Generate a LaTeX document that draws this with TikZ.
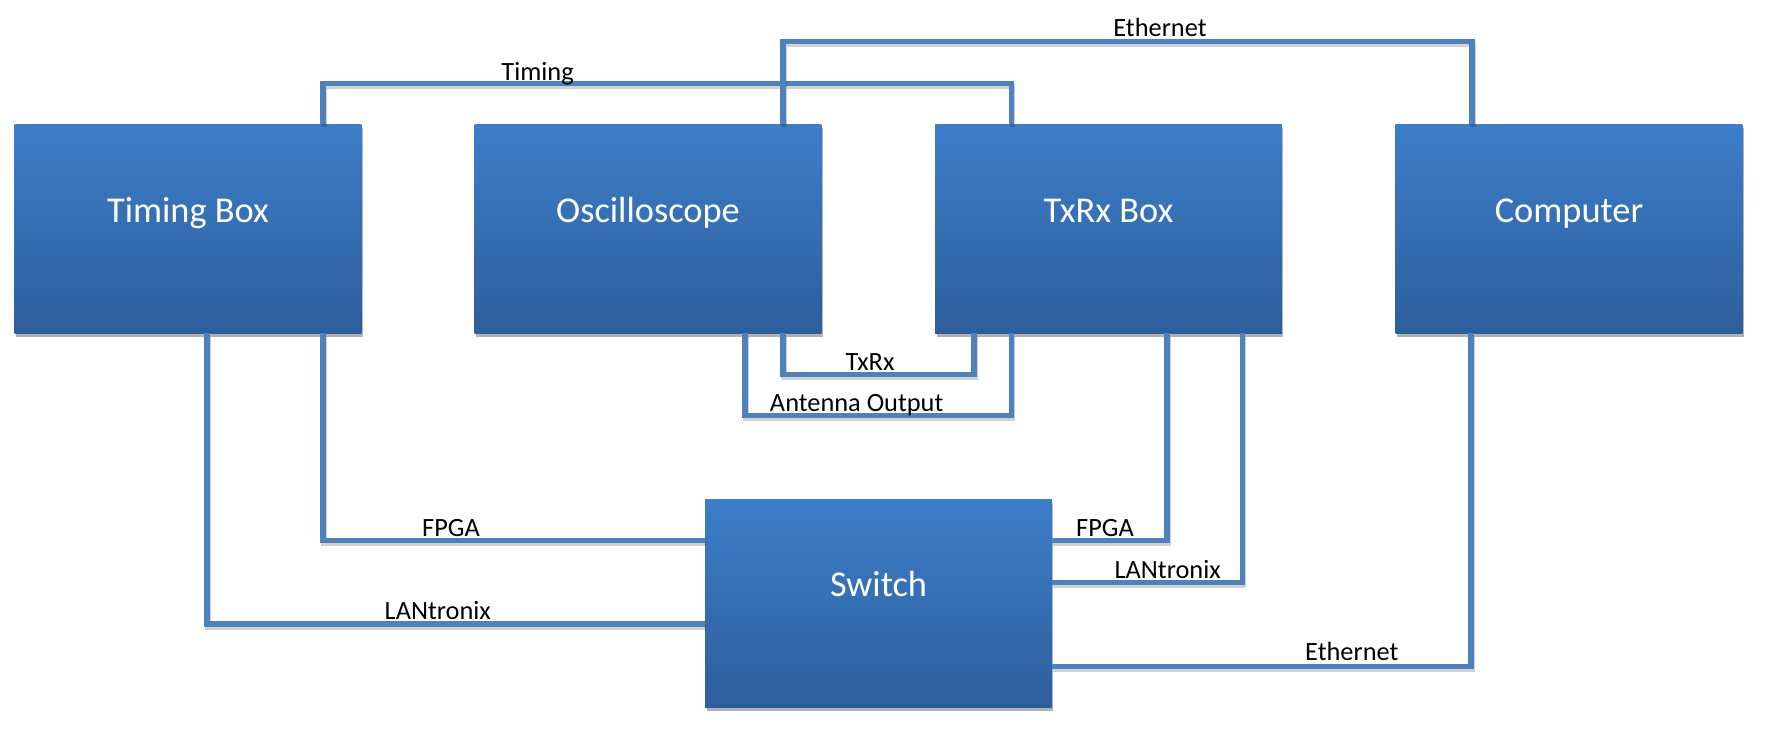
\documentclass[tikz,border=0pt]{standalone}
\usepackage{fontspec}
\setmainfont{Carlito}
\usetikzlibrary{calc,shadows}

\definecolor{boxtop}{RGB}{61,126,201}
\definecolor{boxbot}{RGB}{45,94,156}
\definecolor{wirecol}{RGB}{79,129,189}

\tikzset{
  unit/.style={rectangle,inner sep=0pt,outer sep=0pt,
    minimum width=6.94cm,minimum height=4.18cm,
    top color=boxtop,middle color=boxtop!80!boxbot,bottom color=boxbot,
    drop shadow={shadow xshift=0.03cm,shadow yshift=-0.07cm,opacity=0.3,fill=black}},
  unittext/.style={text=white,font=\fontsize{20.7}{24}\selectfont,
    text height=0.7em,text depth=0.25em,yshift=0.21cm},
  wire/.style={draw=wirecol,line width=0.11cm,line join=miter,
    preaction={draw=black,opacity=0.18,line width=0.11cm,
      transform canvas={xshift=0.02cm,yshift=-0.06cm}}},
  wirelbl/.style={anchor=base,inner sep=0pt,font=\fontsize{15}{18}\selectfont}
}

\begin{document}
\begin{tikzpicture}[x=0.02cm,y=-0.02cm]
  \useasboundingbox (0,0) rectangle (1765,735);

  % Units
  \node[unit,label={[unittext]center:Timing Box}] (timing) at (188,228.8) {};
  \node[unit,label={[unittext]center:Oscilloscope}] (scope) at (648,228.8) {};
  \node[unit,label={[unittext]center:TxRx Box}] (txrx) at (1108.5,228.8) {};
  \node[unit,label={[unittext]center:Computer}] (computer) at (1569,228.8) {};
  \node[unit,label={[unittext]center:Switch}] (switch) at (878.5,603.5) {};

  % Links above the units
  \path[wire] ($(timing.north)+(135,0)$) -- ++(0,-41) -| ($(txrx.north)+(-97,0)$);
  \path[wire] ($(scope.north)+(135,0)$) -- ++(0,-82.6) -| ($(computer.north)+(-97,0)$);

  % Links between scope and TxRx box
  \path[wire] ($(scope.south)+(135,0)$) -- ++(0,41) -| ($(txrx.south)+(-134.5,0)$);
  \path[wire] ($(scope.south)+(97,0)$) -- ++(0,82) -| ($(txrx.south)+(-97,0)$);

  % Links to the switch
  \path[wire] ($(timing.south)+(135,0)$) |- ($(switch.west)+(0,-63)$);
  \path[wire] ($(timing.south)+(19,0)$) |- ($(switch.west)+(0,20.5)$);
  \path[wire] ($(switch.east)+(0,-63)$) -| ($(txrx.south)+(58.5,0)$);
  \path[wire] ($(switch.east)+(0,-21)$) -| ($(txrx.south)+(134,0)$);
  \path[wire] ($(switch.east)+(0,63)$) -| ($(computer.south)+(-98,0)$);

  % Link labels
  \node[wirelbl] (lbltiming) at (537.6,80) {Timing};
  \node[wirelbl] (lbleth) at (1160,36.7) {Ethernet};
  \node[wirelbl] (lbltxrx) at (870,370) {TxRx};
  \node[wirelbl] (lblant) at (856.7,411.7) {Antenna Output};
  \node[wirelbl] (lblfpga) at (451,536) {FPGA};
  \node[wirelbl] (lbllan) at (437.8,619.3) {LANtronix};
  \node[wirelbl] (lblfpgaright) at (1105,536.7) {FPGA};
  \node[wirelbl] (lbllanright) at (1167.7,578) {LANtronix};
  \node[wirelbl] (lblethbottom) at (1351.8,660.7) {Ethernet};
\end{tikzpicture}
\end{document}
